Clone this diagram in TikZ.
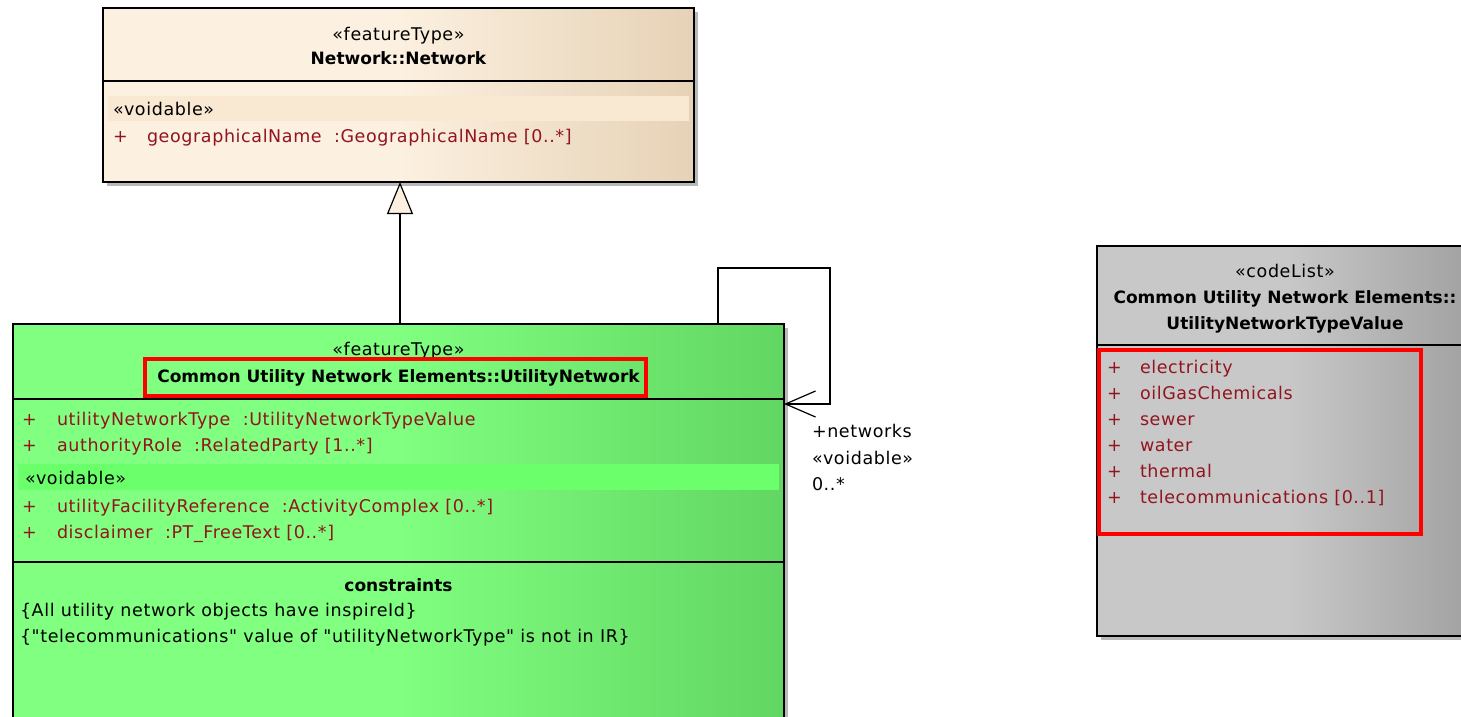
\documentclass[tikz,border=0pt]{standalone}
\usepackage{fontspec}
\setmainfont{DejaVu Sans}[Ligatures=TeXOff]
\newfontfamily\regfont{DejaVu Sans}[Ligatures=TeXOff, LetterSpace=3.5]
\usetikzlibrary{arrows.meta}
\definecolor{attr}{RGB}{145,20,30}
\definecolor{netL}{RGB}{252,240,224}
\definecolor{netR}{RGB}{230,210,182}
\definecolor{netBand}{RGB}{250,233,210}
\definecolor{grnL}{RGB}{128,255,128}
\definecolor{grnR}{RGB}{98,214,98}
\definecolor{grnBand}{RGB}{108,255,108}
\definecolor{gryL}{RGB}{200,200,200}
\definecolor{gryR}{RGB}{160,160,160}
\definecolor{shadowc}{RGB}{185,185,185}
\tikzset{
  umlbox/.style={draw=black, line width=1.2pt, inner sep=0pt, outer sep=0pt, anchor=north west},
  txt/.style={inner sep=0pt, outer sep=0pt, font=\regfont\fontsize{17.5}{20}\selectfont},
  ttl/.style={inner sep=0pt, outer sep=0pt, font=\fontsize{17}{20}\selectfont\bfseries},
  att/.style={txt, text=attr, anchor=base west},
  redbox/.style={draw=red, line width=4pt},
  sep/.style={draw=black, line width=1.2pt},
}
\begin{document}
\begin{tikzpicture}[x=1pt,y=-1pt]
\clip (0,0) rectangle (1461,717);
\fill[white] (0,0) rectangle (1461,717);

% ---------- Network::Network ----------
\fill[shadowc] (107,12) rectangle (698,186);
\node[umlbox, minimum width=591, minimum height=174, left color=netL, right color=netR, middle color=netL] (net) at (103,8) {};
\draw[sep] (103,81) -- (694,81);
\fill[netBand] (108,96) rectangle (689,121);
\node[txt, anchor=base] (netst) at (398.5,41) {«featureType»};
\node[ttl, anchor=base] (netnm) at (398.5,64) {Network::Network};
\node[txt, anchor=base west] (netvd) at (113,115) {«voidable»};
\node[att] (netp1) at (113,142) {+};
\node[att] (neta1) at (147,142) {geographicalName~~:GeographicalName [0..*]};

% ---------- UtilityNetwork ----------
\fill[shadowc] (17,328) rectangle (788,740);
\node[umlbox, minimum width=771, minimum height=420, left color=grnL, right color=grnR, middle color=grnL] (utn) at (13,324) {};
\draw[sep] (13,399) -- (784,399);
\draw[sep] (13,562) -- (784,562);
\fill[grnBand] (18,464) rectangle (779,490);
\node[txt, anchor=base] (utnst) at (398.5,355) {«featureType»};
\node[ttl, anchor=base] (utnnm) at (398.5,382) {Common Utility Network Elements::UtilityNetwork};
\draw[redbox] (145,359) rectangle (646,396);
\node[att] (utnp1) at (22,425) {+};
\node[att] (utna1) at (57,425) {utilityNetworkType~~:UtilityNetworkTypeValue};
\node[att] (utnp2) at (22,451) {+};
\node[att] (utna2) at (57,451) {authorityRole~~:RelatedParty [1..*]};
\node[txt, anchor=base west] (utnvd) at (25,484) {«voidable»};
\node[att] (utnp3) at (22,512) {+};
\node[att] (utna3) at (57,512) {utilityFacilityReference~~:ActivityComplex [0..*]};
\node[att] (utnp4) at (22,538) {+};
\node[att] (utna4) at (57,538) {disclaimer~~:PT\_FreeText [0..*]};
\node[ttl, anchor=base] (utncs) at (398.5,591) {constraints};
\node[txt, anchor=base west] (utnc1) at (20,616) {\{All utility network objects have inspireId\}};
\node[txt, anchor=base west] (utnc2) at (20,642) {\{"telecommunications" value of "utilityNetworkType" is not in IR\}};

% ---------- UtilityNetworkTypeValue ----------
\fill[shadowc] (1101,250) rectangle (1480,640);
\node[umlbox, minimum width=380, minimum height=390, left color=gryL, right color=gryR, middle color=gryL] (unt) at (1097,246) {};
\draw[sep] (1097,345) -- (1477,345);
\node[txt, anchor=base] (untst) at (1285,277) {«codeList»};
\node[ttl, anchor=base] (untnm1) at (1285,303) {Common Utility Network Elements::};
\node[ttl, anchor=base] (untnm2) at (1285,329) {UtilityNetworkTypeValue};
\node[att] (untp1) at (1107,373) {+};
\node[att] (unta1) at (1140,373) {electricity};
\node[att] (untp2) at (1107,399) {+};
\node[att] (unta2) at (1140,399) {oilGasChemicals};
\node[att] (untp3) at (1107,425) {+};
\node[att] (unta3) at (1140,425) {sewer};
\node[att] (untp4) at (1107,451) {+};
\node[att] (unta4) at (1140,451) {water};
\node[att] (untp5) at (1107,477) {+};
\node[att] (unta5) at (1140,477) {thermal};
\node[att] (untp6) at (1107,503) {+};
\node[att] (unta6) at (1140,503) {telecommunications [0..1]};
\draw[redbox] (1099,350) rectangle (1421,534);

% ---------- connectors ----------
\draw[line width=1.2pt, -{Triangle[open, length=32pt, width=26pt, fill=netL]}] (utn.north -| 400,0) -- (net.south -| 400,0);
\coordinate (loopA) at (718,268);
\coordinate (loopB) at (830,404);
\draw[line width=1.2pt, -{Straight Barb[length=30pt, width=26pt, line width=1.2pt]}] (utn.north -| loopA) -- (loopA) -| (loopB) -- (utn.east |- loopB);
\node[txt, anchor=base west] (rl1) at (812,437) {+networks};
\node[txt, anchor=base west] (rl2) at (812,464) {«voidable»};
\node[txt, anchor=base west] (rl3) at (812,490) {0..*};
\end{tikzpicture}
\end{document}
